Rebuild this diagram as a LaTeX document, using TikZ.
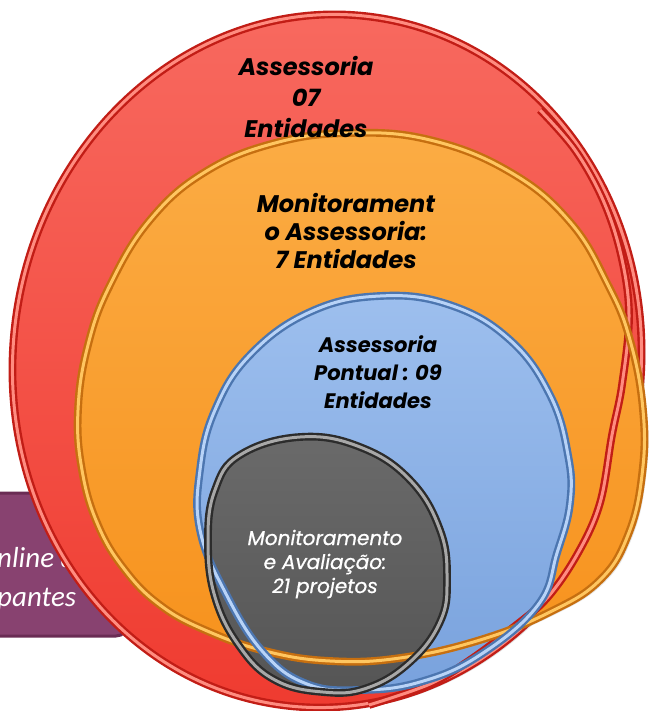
\documentclass[tikz,border=0pt]{standalone}
\usepackage{fontspec}
\setmainfont{Carlito}
\newfontfamily\gothic{Poppins}
\newfontfamily\gothicmed{Poppins}[FakeBold=0.8]
\usetikzlibrary{shadows}

\definecolor{redtop}{HTML}{F86A60}
\definecolor{redbot}{HTML}{EF3A2F}
\definecolor{reddark}{HTML}{C21D16}
\definecolor{redlight}{HTML}{FF8C80}
\definecolor{orangetop}{HTML}{FBAC44}
\definecolor{orangebot}{HTML}{F7921D}
\definecolor{orangedark}{HTML}{C66F10}
\definecolor{orangelight}{HTML}{FFC660}
\definecolor{bluetop}{HTML}{9DBFEE}
\definecolor{bluebot}{HTML}{79A2DD}
\definecolor{bluedark}{HTML}{4C76B0}
\definecolor{bluelight}{HTML}{B8D3F7}
\definecolor{graytop}{HTML}{6A6A6A}
\definecolor{graybot}{HTML}{555555}
\definecolor{graydark}{HTML}{2C2C2C}
\definecolor{graylight}{HTML}{A8A8A8}
\definecolor{boxfill}{HTML}{884270}
\definecolor{boxdark}{HTML}{6A2C54}

% outlines of the four discs
\def\redshape{(327,361) ellipse [x radius=314, y radius=347]}
\def\redback{plot[smooth, tension=0.6] coordinates {(540,110) (575,150) (603,200) (621,255) (629,315) (622,385) (612,435) (600,503) (578,553) (547,598) (510,630) (470,660) (430,684) (369,705)}}
\def\orangeshape{plot[smooth cycle, tension=0.7] coordinates {(350,133) (430,140) (510,172) (570,222) (608,285) (630,340) (643,410) (642,475) (628,535) (600,580) (550,612) (480,640) (400,658) (330,661) (265,651) (205,630) (160,605) (125,570) (98,525) (82,470) (78,410) (88,345) (110,285) (150,220) (205,172) (275,143)}}
\def\blueshape{plot[smooth cycle, tension=0.7] coordinates {(380,296) (450,305) (510,340) (550,395) (568,455) (570,503) (557,553) (538,605) (480,655) (420,682) (360,690) (307,684) (263,652) (225,592) (200,530) (200,470) (215,410) (250,355) (310,312)}}
\def\grayshape{plot[smooth cycle, tension=0.7] coordinates {(300,437) (360,447) (410,480) (440,530) (447,580) (440,622) (410,662) (367,688) (323,692) (275,680) (240,647) (215,597) (208,540) (215,490) (240,455)}}

\begin{document}
\begin{tikzpicture}[x=1pt,y=-1pt,
	rim/.style={line width=2.4pt, double distance=3pt},
	redtilt/.style={rotate around={-7:(327,361)}},
	lbl/.style={align=center, text=black, inner sep=0pt}]

		\useasboundingbox[fill=white] (0,0) rectangle (649,711);

		% box on the left, mostly behind the rings
		\draw[fill=boxfill, draw=boxdark, line width=3pt, rounded corners=12pt] (-30,493) rectangle (128,636);
		\draw (-3,567) node (boxtop) [anchor=base west, inner sep=0pt, text=white, font=\itshape\fontsize{29}{34}\selectfont] {nline d};
		\draw (-3,606) node (boxbottom) [anchor=base west, inner sep=0pt, text=white, font=\itshape\fontsize{29}{34}\selectfont] {pantes};

		\draw[redtilt, top color=redtop, bottom color=redbot, draw=reddark, line width=0.8pt, drop shadow={opacity=0.25, shadow xshift=4pt, shadow yshift=-3pt}] \redshape;
		\draw[redtilt, rim, draw=reddark, double=redlight] \redshape;
		\draw[top color=orangetop, bottom color=orangebot, draw=orangedark, line width=0.8pt, drop shadow={opacity=0.2, shadow xshift=4pt, shadow yshift=-3pt}] \orangeshape;
		\draw[top color=bluetop, bottom color=bluebot, draw=bluedark, line width=0.8pt] \blueshape;
		\draw[top color=graytop, bottom color=graybot, draw=graydark, line width=0.8pt] \grayshape;

		\draw[rim, draw=reddark, double=redlight] \redback;
		\draw[rim, draw=orangedark, double=orangelight] \orangeshape;
		\draw[rim, draw=bluedark, double=bluelight] \blueshape;
		\draw[rim, draw=graydark, double=graylight] \grayshape;

		\draw (306,97) node (assessoria) [lbl, font=\gothic\bfseries\itshape\fontsize{24}{31}\selectfont] {Assessoria\\07\\Entidades};
		\draw (346,231) node (monitoramento) [lbl, font=\gothic\bfseries\itshape\fontsize{24}{28}\selectfont] {Monitorament\\o Assessoria:\\7 Entidades};
		\draw (378,372) node (pontual) [lbl, font=\gothic\bfseries\itshape\fontsize{21}{28}\selectfont] {Assessoria\\Pontual : 09\\Entidades};
		\draw (325,564) node (avaliacao) [lbl, text=white, font=\gothicmed\itshape\fontsize{20}{24}\selectfont] {Monitoramento\\e Avaliação:\\21 projetos};

\end{tikzpicture}
\end{document}
